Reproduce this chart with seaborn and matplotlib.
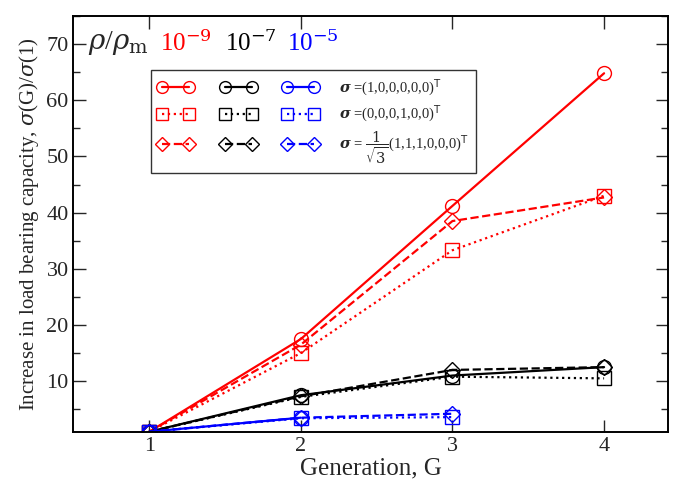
import pandas as pd
import matplotlib
matplotlib.use("Agg")
import matplotlib.pyplot as plt
from matplotlib.ticker import MultipleLocator
from matplotlib.legend_handler import HandlerTuple
import seaborn as sns

generation = [1, 2, 3, 4]

# rho/rho_m = 1e-9 (red)
red_circle = [1, 17.5, 41.2, 64.8]
red_square = [1, 15.0, 33.3, 43.0]
red_diamond = [1, 16.5, 38.5, 42.7]
# rho/rho_m = 1e-7 (black)
black_circle = [1, 7.5, 11.0, 12.5]
black_square = [1, 7.2, 10.8, 10.5]
black_diamond = [1, 7.3, 12.0, 12.5]
# rho/rho_m = 1e-5 (blue)
blue_circle = [1, 3.5]
blue_square = [1, 3.4, 3.6]
blue_diamond = [1, 3.5, 4.2]

sigma_labels = [r"$\boldsymbol{\sigma}$ =(1,0,0,0,0,0)$^\mathsf{T}$",
                r"$\boldsymbol{\sigma}$ =(0,0,0,1,0,0)$^\mathsf{T}$",
                r"$\boldsymbol{\sigma}$ = $\dfrac{1}{\sqrt{3}}$(1,1,1,0,0,0)$^\mathsf{T}$"]
density_labels = [r"10$^{-9}$", r"10$^{-7}$", r"10$^{-5}$"]

sns.set_theme(style="ticks")
plt.rcParams['font.family'] = ['Liberation Serif', 'DejaVu Serif']
plt.rcParams['mathtext.fontset'] = 'dejavuserif'

fig, ax = plt.subplots(figsize=(6.8, 4.84), dpi=100)

colors = ["red", "black", "blue"]
groups = [[red_circle, red_square, red_diamond],
          [black_circle, black_square, black_diamond],
          [blue_circle, blue_square, blue_diamond]]
styles = [("o", "-"), ("s", ":"), ("D", "--")]

rows = [[], [], []]
for col, grp in zip(colors, groups):
    for i, vals in enumerate(grp):
        mk, ls = styles[i]
        df = pd.DataFrame({"G": generation[:len(vals)], "ratio": vals})
        sns.lineplot(data=df, x="G", y="ratio", ax=ax, color=col, linestyle=ls,
                     linewidth=1.6, marker=mk, markersize=10 if mk != "D" else 8,
                     markerfacecolor="none", markeredgecolor=col,
                     markeredgewidth=1.0)
        rows[i].append(ax.lines[-1])

ax.set_xlim(0.5, 4.42)
ax.set_ylim(1, 75)
ax.xaxis.set_major_locator(MultipleLocator(1))
ax.yaxis.set_minor_locator(MultipleLocator(5))
ax.set_yticks([10, 20, 30, 40, 50, 60, 70])
ax.tick_params(which="both", direction="in", top=True, right=True, labelsize=16)
ax.tick_params(which="major", length=9, width=1)
ax.tick_params(which="minor", length=5, width=1)
for sp in ax.spines.values():
    sp.set_linewidth(1.4)
    sp.set_color("black")

ax.set_xlabel("Generation, G", fontsize=18, labelpad=1)
ax.set_ylabel(r"Increase in load bearing capacity, $\sigma$(G)/$\sigma$(1)", fontsize=15)

ax.text(0.025, 0.935, r"$\rho$/$\rho_\mathrm{m}$", transform=ax.transAxes,
        fontsize=20, va="center")
for x, lab, col in zip([0.145, 0.255, 0.36], density_labels, colors):
    ax.text(x, 0.935, lab, transform=ax.transAxes, fontsize=18, color=col, va="center")

leg = ax.legend([tuple(r) for r in rows], sigma_labels, loc="upper left",
                numpoints=2, handler_map={tuple: HandlerTuple(ndivide=None, pad=1.85)},
                bbox_to_anchor=(0.13, 0.87), fontsize=10.5, frameon=True,
                fancybox=False, edgecolor="black", handlelength=11,
                markerscale=0.85, handletextpad=1.4,
                labelspacing=0.4, borderpad=0.5, borderaxespad=0)
leg.get_frame().set_linewidth(1.0)

fig.subplots_adjust(left=0.108, right=0.982, top=0.967, bottom=0.108)
fig.savefig("out.png", dpi=100)
